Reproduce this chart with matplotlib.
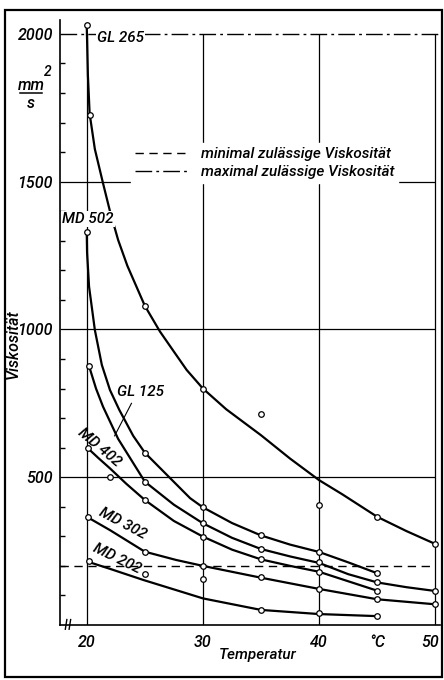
import matplotlib
matplotlib.use('Agg')
import matplotlib.pyplot as plt
import matplotlib.transforms as mtransforms
from matplotlib.patches import Rectangle

plt.rcParams['font.family'] = ['Roboto', 'DejaVu Sans']
plt.rcParams['font.style'] = 'italic'
plt.rcParams['font.weight'] = 'medium'

# Kurvenverlauf je Öl: Temperatur in °C, Viskosität in mm²/s
gl265_t = [20, 20.1, 20.25, 20.7, 21.4, 22, 22.7, 23.5, 25, 26.3, 27.5, 28.6, 30, 32, 35, 37.5, 40, 42, 45, 47.5, 50]
gl265_v = [2030, 1860, 1730, 1610, 1495, 1400, 1303, 1215, 1080, 993, 925, 863, 800, 730, 642, 563, 490, 442, 366, 318, 274]
md502_t = [20, 20.03, 20.2, 20.7, 21.3, 22, 22.8, 24, 25, 27.2, 28.9, 30, 32.5, 35, 37.5, 40, 42.5, 45]
md502_v = [1330, 1260, 1145, 998, 880, 795, 728, 640, 583, 496, 429, 398, 345, 303, 272, 247, 212, 175]
gl125_t = [20.2, 20.8, 21.4, 22.7, 25, 27.5, 30, 32.5, 35, 37.5, 40, 42.5, 45, 47.5, 50]
gl125_v = [876, 800, 739, 630, 485, 407, 344, 295, 257, 232, 210, 172, 144, 128, 115]
md402_t = [20.1, 21, 22, 23.4, 25, 27.5, 30, 32.5, 35, 37.5, 40, 42.5, 45]
md402_v = [598, 565, 530, 478, 423, 352, 299, 255, 222, 200, 180, 148, 116]
md302_t = [20.1, 22, 25, 27.7, 30, 35, 40, 45, 50]
md302_v = [364, 321, 248, 220, 200, 160, 122, 87, 70]
md202_t = [20.2, 20.5, 22, 24.9, 27.7, 30, 35, 40, 45]
md202_v = [216, 209, 190, 152, 118, 90, 51, 37, 30]

# Messpunkte
gl265_pt_t = [20, 20.25, 25, 30, 35, 40, 45, 50]
gl265_pt_v = [2030, 1726, 1080, 800, 714, 406, 366, 275]
md502_pt_t = [20, 25, 30, 35, 40, 45]
md502_pt_v = [1330, 583, 398, 303, 247, 175]
gl125_pt_t = [20.2, 25, 30, 35, 40, 45, 50]
gl125_pt_v = [876, 484, 344, 257, 212, 144, 115]
md402_pt_t = [20.1, 22, 25, 30, 35, 40, 45]
md402_pt_v = [598, 500, 423, 299, 222, 180, 116]
md302_pt_t = [20.1, 25, 30, 35, 40, 45, 50]
md302_pt_v = [364, 248, 200, 161, 122, 87, 70]
md202_pt_t = [20.2, 25, 30, 35, 40, 45]
md202_pt_v = [216, 171, 155, 51, 42, 30]

visc_min = 200
visc_max = 2000
x_ticks = [20, 30, 40, 45, 50]
x_ticklabels = ['20', '30', '40', '°C', '50']
y_ticks = [500, 1000, 1500, 2000]

W, H = 444, 680
fig = plt.figure(figsize=(W / 100, H / 100), dpi=100)
ax = fig.add_axes([60 / W, 1 - 625 / H, 380 / W, 605 / H])
x0, x1 = 17.7, 50.4
ax.set_xlim(x0, x1)
ax.set_ylim(0, 2047)

for s in ('top', 'right'):
    ax.spines[s].set_visible(False)
for s in ('left', 'bottom'):
    ax.spines[s].set_linewidth(1.2)

# Netz
ax.vlines([20, 30, 40, 50], 0, visc_max, color='k', lw=0.9, zorder=1)
ax.hlines([500, 1000, 1500], x0, 50, color='k', lw=0.9, zorder=1)

# Grenzwerte
ax.hlines(visc_min, x0, 50, color='k', lw=1.0, linestyles=[(0, (6, 4))],
          label='minimal zulässige Viskosität', zorder=2)
ax.hlines(visc_max, x0, x1, color='k', lw=1.0, linestyles=[(0, (12, 3, 2, 3))],
          label='maximal zulässige Viskosität', zorder=2)

curves = [(gl265_t, gl265_v), (md502_t, md502_v), (gl125_t, gl125_v),
          (md402_t, md402_v), (md302_t, md302_v), (md202_t, md202_v)]
points = [(gl265_pt_t, gl265_pt_v), (md502_pt_t, md502_pt_v), (gl125_pt_t, gl125_pt_v),
          (md402_pt_t, md402_pt_v), (md302_pt_t, md302_pt_v), (md202_pt_t, md202_pt_v)]
for t, v in curves:
    ax.plot(t, v, color='k', lw=1.6, solid_joinstyle='round', zorder=3)
for t, v in points:
    ax.plot(t, v, 'o', mfc='white', mec='k', ms=4, mew=0.9, zorder=4)

# Beschriftung der Kurven
box = dict(facecolor='white', edgecolor='none', pad=1)
fs = 11
ax.text(22.9, 1985, 'GL 265', ha='center', va='center', fontsize=fs, bbox=box, zorder=5)
ax.text(20.1, 1374, 'MD 502', ha='center', va='center', fontsize=fs, bbox=box, zorder=5)
ax.text(24.6, 788, 'GL 125', ha='center', va='center', fontsize=fs, zorder=5)
ax.plot([23.85, 22.4], [750, 640], color='k', lw=0.8, zorder=5)
ax.text(21.1, 602, 'MD 402', ha='center', va='center', fontsize=fs, rotation=-40, zorder=5)
ax.text(23.1, 342, 'MD 302', ha='center', va='center', fontsize=fs, rotation=-28, zorder=5)
ax.text(22.6, 223, 'MD 202', ha='center', va='center', fontsize=fs, rotation=-26, zorder=5)

# Achsbruch unten links
for xb in (0.016, 0.026):
    ax.plot([xb - 0.002, xb + 0.002], [-0.007, 0.009], transform=ax.transAxes,
            color='k', lw=1, clip_on=False)

ax.set_xticks(x_ticks)
ax.set_xticklabels(x_ticklabels, fontsize=11.5)
ax.set_yticks(y_ticks)
ax.set_yticklabels([str(y) for y in y_ticks], fontsize=11.5)
ax.set_yticks(range(100, 2000, 100), minor=True)
ax.tick_params(axis='x', length=0, pad=7)
ax.tick_params(axis='y', which='major', length=0, pad=5)
ax.tick_params(axis='y', which='minor', direction='in', length=3.5, width=1)
# "50" etwas nach links, damit es nicht am Rahmen klebt
last = ax.xaxis.get_major_ticks()[-1].label1
last.set_transform(last.get_transform() + mtransforms.ScaledTranslation(-4 / 72, 0, fig.dpi_scale_trans))

ax.text(34.7, -100, 'Temperatur', ha='center', va='center', fontsize=11)
fig.text(13 / W, 1 - 344 / H, 'Viskosität', rotation=90, ha='center', va='center', fontsize=11.5)
fig.text(31 / W, 1 - 85 / H, 'mm', ha='center', va='center', fontsize=11.5)
fig.text(31 / W, 1 - 103 / H, 's', ha='center', va='center', fontsize=11.5)
fig.text(48 / W, 1 - 72 / H, '2', ha='center', va='center', fontsize=10)
fig.add_artist(plt.Line2D([20 / W, 42 / W], [1 - 93 / H, 1 - 93 / H], color='k', lw=1.1))

leg = ax.legend(loc='lower right', bbox_to_anchor=(0.89, 0.731), fontsize=11,
                handlelength=3.4, handletextpad=0.9, labelspacing=0.25,
                frameon=True, fancybox=False, framealpha=1, borderaxespad=0,
                facecolor='white', edgecolor='white', borderpad=0.25)
leg.set_zorder(6)

fig.add_artist(Rectangle((5 / W, 3 / H), 437 / W, 667 / H, transform=fig.transFigure,
                         fill=False, lw=1.6, ec='k'))

fig.savefig('out.png', dpi=100)
